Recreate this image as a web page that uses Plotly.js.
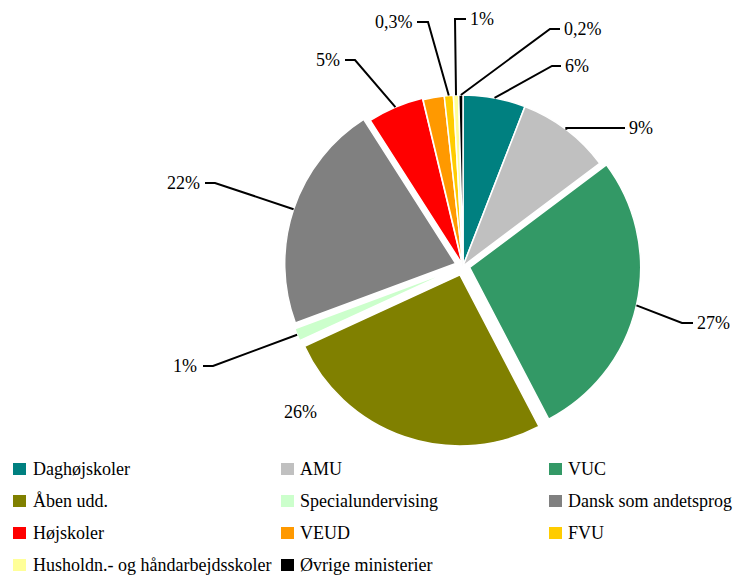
<!DOCTYPE html>
<html>
<head>
<meta charset="utf-8">
<script src="https://cdn.plot.ly/plotly-3.0.1.min.js"></script>
<style>html,body{margin:0;padding:0;background:#fff}#chart{width:733px;height:576px}</style>
</head>
<body>
<div id="chart"></div>
<script>
// ---- data ----
const categories = ['Daghøjskoler','AMU','VUC','Åben udd.','Specialundervising','Dansk som andetsprog','Højskoler','VEUD','FVU','Husholdn.- og håndarbejdsskoler','Øvrige ministerier'];
const shares = [5.9, 8.85, 27.6, 25.8, 1.2, 21.6, 5.3, 2.0, 0.85, 0.5, 0.4];
const labelTexts = ['6%','9%','27%','26%','1%','22%','5%','','0,3%','1%','0,2%'];

// ---- styling / layout constants ----
const colors = ['#008080','#C0C0C0','#339966','#808000','#CCFFCC','#808080','#FF0000','#FF9900','#FFCC00','#FFFF99','#000000'];
const pulls = [0, 0, 0.04, 0.055, 0.05, 0.045, 0.01, 0, 0, 0, 0];
const W = 733, H = 576;
const CX = 463, CY = 266, R = 171;
// label placement: [textX, textY, xanchor, elbowX, lineEndX, drawLine]
const labelPos = [
  [563, 66, 'left', 552, 561, true],
  [627, 128, 'left', null, 625, true],
  [695, 323, 'left', 682, 693, true],
  [300, 412, 'center', null, null, false],
  [199, 366, 'right', 213, 203, true],
  [202, 183, 'right', 215, 205, true],
  [342, 60, 'right', 355, 345, true],
  [null, null, null, null, null, false],
  [415, 22, 'right', 428, 417, true],
  [468, 19, 'left', 455, 466, true],
  [562, 29, 'left', 550, 560, true]
];
const legendColX = [13, 281, 549];
const legendTextX = [31, 298, 566];
const legendRowY0 = 469, legendRowStep = 32;
const FONT = 'Times New Roman';

const px = x => x / W;
const py = y => 1 - y / H;

const maxPull = Math.max(...pulls);
const half = R * (1 + maxPull);

const trace = {
  type: 'pie',
  labels: categories,
  values: shares,
  sort: false,
  direction: 'clockwise',
  rotation: 0,
  pull: pulls,
  textinfo: 'none',
  hoverinfo: 'label+percent',
  marker: { colors: colors, line: { color: '#ffffff', width: 1.5 } },
  domain: { x: [px(CX - half), px(CX + half)], y: [py(CY + half), py(CY - half)] },
  showlegend: false
};

const shapes = [];
const annotations = [];

// leader lines and data labels, start point computed from slice mid-angles
const total = shares.reduce((a, b) => a + b, 0);
let cum = 0;
shares.forEach((v, i) => {
  const mid = (cum + v / 2) / total * 2 * Math.PI;
  cum += v;
  const lp = labelPos[i];
  if (!labelTexts[i] || lp[0] === null) return;
  annotations.push({
    xref: 'paper', yref: 'paper', x: px(lp[0]), y: py(lp[1]),
    xanchor: lp[2], yanchor: 'middle', showarrow: false,
    text: labelTexts[i], font: { family: FONT, size: 18, color: '#000' }
  });
  if (lp[5]) {
    const rr = R * (1 + pulls[i]);
    const sx = CX + rr * Math.sin(mid);
    const sy = CY - rr * Math.cos(mid);
    const ex = lp[3] === null ? sx : lp[3];
    const path = 'M' + px(sx) + ',' + py(sy) + ' L' + px(ex) + ',' + py(lp[1]) + ' L' + px(lp[4]) + ',' + py(lp[1]);
    shapes.push({ type: 'path', xref: 'paper', yref: 'paper', path: path, line: { color: '#000', width: 2 } });
  }
});

// custom 3-column legend
categories.forEach((c, i) => {
  const col = i % 3, row = Math.floor(i / 3);
  const yc = legendRowY0 + row * legendRowStep;
  shapes.push({
    type: 'rect', xref: 'paper', yref: 'paper',
    x0: px(legendColX[col]), x1: px(legendColX[col] + 13),
    y0: py(yc - 6), y1: py(yc + 6),
    fillcolor: colors[i], line: { width: 0 }
  });
  annotations.push({
    xref: 'paper', yref: 'paper', x: px(legendTextX[col]), y: py(yc),
    xanchor: 'left', yanchor: 'middle', showarrow: false,
    text: c, font: { family: FONT, size: 18, color: '#000' }
  });
});

const layout = {
  width: W, height: H,
  margin: { l: 0, r: 0, t: 0, b: 0 },
  paper_bgcolor: '#fff', plot_bgcolor: '#fff',
  font: { family: FONT, color: '#000' },
  showlegend: false,
  shapes: shapes,
  annotations: annotations
};

Plotly.newPlot('chart', [trace], layout, { displayModeBar: false, staticPlot: true });
</script>
</body>
</html>
